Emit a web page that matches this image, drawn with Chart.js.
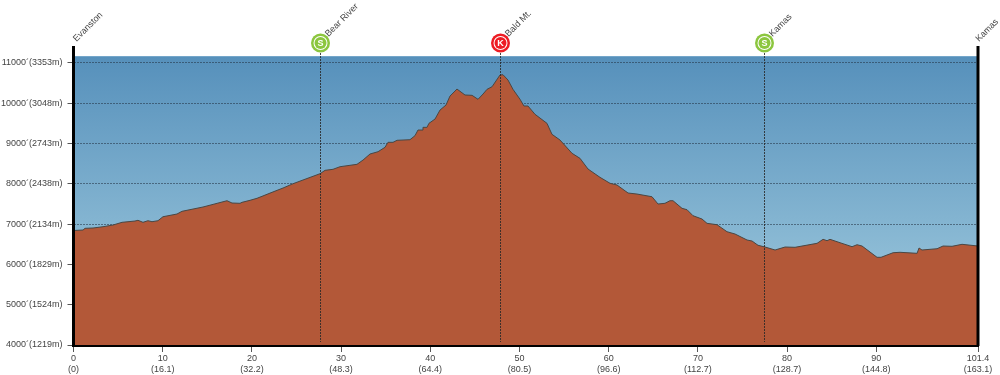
<!DOCTYPE html>
<html>
<head>
<meta charset="utf-8">
<style>
  html, body { margin:0; padding:0; background:#fff; }
  #wrap { width:1000px; height:375px; }
</style>
<script src="https://cdn.jsdelivr.net/npm/chart.js@4"></script>
</head>
<body>
<div id="wrap"><canvas id="profile" width="1000" height="375"></canvas></div>
<script>
// elevation profile
const miles = [0,1.07,1.29,2.19,3.31,4.43,5.44,6.89,7.23,7.79,8.35,8.8,9.47,10.03,11.6,12.16,14.52,17.21,17.77,18.67,18.89,19.79,20.57,21.13,22.25,23.49,24.61,25.73,27.63,28.2,29.09,29.88,31.78,32.46,33.24,34.14,34.92,35.26,35.82,36.27,37.72,38.28,38.62,39.07,39.18,39.63,39.85,40.53,41.09,41.76,42.21,42.99,43.89,44.68,45.35,45.91,46.36,46.92,47.81,48.15,48.71,49.27,50.06,50.5,50.95,51.74,53.08,53.64,54.54,55.89,56.78,57.68,59.02,60.15,60.93,62.17,63.17,64.85,65.53,66.31,66.87,67.21,68.22,68.78,69.45,70.46,71.02,72.14,73.26,74.16,75.51,76.07,76.74,77.53,78.65,79.77,80.89,83.36,84.03,84.48,84.81,85.93,87.28,87.84,88.4,90.08,90.53,91.88,92.66,94.57,94.79,95.12,96.81,97.48,98.49,99.61,101.4];
const elevation = [6841,6853,6895,6903,6935,6977,7044,7076,7094,7044,7084,7059,7084,7183,7250,7317,7424,7580,7523,7516,7540,7590,7640,7689,7788,7895,8002,8094,8250,8334,8359,8424,8483,8590,8739,8796,8905,9029,9029,9079,9094,9193,9334,9334,9401,9401,9500,9607,9830,9954,10178,10351,10203,10195,10096,10227,10344,10408,10698,10706,10575,10344,10096,9930,9930,9724,9500,9228,9086,8756,8632,8367,8161,8012,7970,7771,7746,7679,7498,7516,7580,7580,7391,7357,7208,7126,7019,6985,6811,6754,6605,6580,6474,6431,6357,6431,6424,6523,6622,6588,6622,6538,6439,6488,6456,6176,6176,6290,6300,6275,6407,6357,6389,6456,6449,6498,6456];

const yFeet = [4000,5000,6000,7000,8000,9000,10000,11000];
const yMeters = [1219,1524,1829,2134,2438,2743,3048,3353];
const xMiles = [0,10,20,30,40,50,60,70,80,90,101.4];
const xKm = ['0','16.1','32.2','48.3','64.4','80.5','96.6','112.7','128.7','144.8','163.1'];

const stopMiles = [27.6,47.85,77.4];
const stopNames = ['Bear River','Bald Mt.','Kamas'];
const stopLetters = ['S','K','S'];
const stopColors = ['#8cc63f','#ed1c24','#8cc63f'];
const startName = 'Evanston';
const endName = 'Kamas';

const FONT = '"Liberation Sans", Arial, sans-serif';

function slanted(ctx, text, x, y){
  ctx.save();
  ctx.translate(x, y);
  ctx.rotate(-Math.PI/4);
  ctx.font = '9px ' + FONT;
  ctx.fillStyle = '#444';
  ctx.textAlign = 'left';
  ctx.textBaseline = 'alphabetic';
  ctx.fillText(text, 0, 0);
  ctx.restore();
}

// sky behind the grid
const skyPlugin = {
  id:'sky',
  beforeDraw(chart){
    const {ctx, chartArea:a} = chart;
    const g = ctx.createLinearGradient(0, a.top, 0, a.bottom);
    g.addColorStop(0, '#5690bb');
    g.addColorStop(0.68, '#8cbbd5');
    g.addColorStop(1, '#a0cbdf');
    ctx.save();
    ctx.fillStyle = g;
    ctx.fillRect(a.left, a.top, a.right-a.left, a.bottom-a.top);
    ctx.fillStyle = '#74a6ca';
    ctx.fillRect(a.left, a.top, a.right-a.left, 1);
    ctx.restore();
  }
};

// end bars, stop lines, stop badges and place names
const stopsPlugin = {
  id:'stops',
  afterDatasetsDraw(chart){
    const {ctx, chartArea:a, scales:{x}} = chart;
    ctx.save();
    ctx.strokeStyle = '#000';
    ctx.lineWidth = 3;
    [0, 101.4].forEach(m => {
      const px = x.getPixelForValue(m);
      ctx.beginPath();
      ctx.moveTo(px, 46);
      ctx.lineTo(px, a.bottom+1);
      ctx.stroke();
    });
    stopMiles.forEach((m,i) => {
      const px = Math.round(x.getPixelForValue(m)) + 0.5;
      ctx.strokeStyle = 'rgba(40,40,40,0.85)';
      ctx.lineWidth = 1;
      ctx.setLineDash([2,1]);
      ctx.beginPath();
      ctx.moveTo(px, 50);
      ctx.lineTo(px, 342);
      ctx.stroke();
      ctx.setLineDash([]);

      ctx.fillStyle = stopColors[i];
      ctx.beginPath(); ctx.arc(px, 43, 9.5, 0, Math.PI*2); ctx.fill();
      ctx.fillStyle = '#fff';
      ctx.beginPath(); ctx.arc(px, 43, 7, 0, Math.PI*2); ctx.fill();
      ctx.fillStyle = stopColors[i];
      ctx.beginPath(); ctx.arc(px, 43, 6, 0, Math.PI*2); ctx.fill();
      ctx.fillStyle = '#fff';
      ctx.font = 'bold 9px ' + FONT;
      ctx.textAlign = 'center';
      ctx.textBaseline = 'middle';
      ctx.fillText(stopLetters[i], px, 43.5);

      slanted(ctx, stopNames[i], px+8, 37);
    });
    slanted(ctx, startName, x.getPixelForValue(0)+3, 42);
    slanted(ctx, endName, x.getPixelForValue(101.4)+1, 42);
    ctx.restore();
  }
};

new Chart(document.getElementById('profile').getContext('2d'), {
  type:'line',
  data:{
    datasets:[{
      data: miles.map((m,i) => ({x:m, y:elevation[i]})),
      borderColor:'#4a4744',
      borderWidth:1,
      backgroundColor:'#b35838',
      fill:'start',
      pointRadius:0,
      tension:0
    }]
  },
  options:{
    responsive:false,
    animation:false,
    events:[],
    layout:{ padding:{ top:56, right:22, left:0, bottom:0 } },
    plugins:{ legend:{display:false}, tooltip:{enabled:false} },
    scales:{
      x:{
        type:'linear',
        min:0,
        max:101.4,
        afterBuildTicks: s => { s.ticks = xMiles.map(v => ({value:v})); },
        afterFit: s => { s.height = 30; },
        border:{ color:'#000', width:3 },
        grid:{ drawOnChartArea:false, tickColor:'#555', tickLength:7, tickWidth:1 },
        ticks:{
          autoSkip:false, maxRotation:0, padding:1,
          color:'#444',
          font:{ size:9, family:FONT, lineHeight:1.2 },
          callback:(v,i) => [String(xMiles[i]), '(' + xKm[i] + ')']
        }
      },
      y:{
        type:'linear',
        min:4000,
        max:11171,
        afterBuildTicks: s => { s.ticks = yFeet.map(v => ({value:v})); },
        afterFit: s => { s.width = 73.5; },
        border:{ display:false, dash:[2,1] },
        grid:{ color:'rgba(35,50,65,0.55)', lineWidth:1, tickColor:'#555', tickLength:6, tickBorderDash:[] },
        ticks:{
          autoSkip:false, padding:5,
          color:'#444',
          font:{ size:9, family:FONT },
          callback:(v,i) => yFeet[i] + '´(' + yMeters[i] + 'm)'
        }
      }
    }
  },
  plugins:[skyPlugin, stopsPlugin]
});
</script>
</body>
</html>
